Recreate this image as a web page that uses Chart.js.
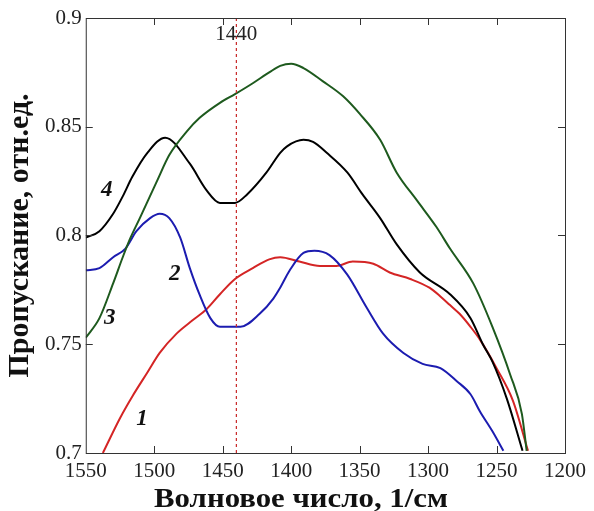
<!DOCTYPE html>
<html>
<head>
<meta charset="utf-8">
<script src="https://cdn.jsdelivr.net/npm/chart.js@4/dist/chart.umd.min.js"></script>
<style>
  body { margin: 0; background: #fff; }
  .wrap { width: 594px; height: 511px; }
</style>
</head>
<body>
<div class="wrap"><canvas id="spectrum"></canvas></div>
<script>
// --- data (wavenumber, transmittance) ---
let wn1 = [1537.5, 1525, 1516, 1505, 1496, 1483.5, 1472, 1462, 1452, 1441, 1428, 1416, 1408, 1394, 1379, 1367, 1355, 1340, 1328, 1313, 1299, 1291, 1284, 1277, 1269, 1262, 1250, 1238, 1227];
let tr1 = [0.700, 0.716, 0.726, 0.737, 0.746, 0.755, 0.761, 0.766, 0.773, 0.780, 0.785, 0.789, 0.790, 0.788, 0.786, 0.786, 0.788, 0.787, 0.783, 0.780, 0.776, 0.772, 0.768, 0.764, 0.758, 0.752, 0.739, 0.724, 0.701];

let wn2 = [1550, 1540, 1530, 1521, 1513, 1503, 1496, 1489, 1481, 1474, 1467, 1459, 1452, 1437, 1423, 1413, 1408, 1401, 1391, 1383, 1372, 1359, 1345, 1333, 1318, 1304, 1291, 1279, 1269, 1262, 1253, 1245];
let tr2 = [0.784, 0.785, 0.790, 0.794, 0.802, 0.808, 0.810, 0.808, 0.799, 0.785, 0.773, 0.762, 0.758, 0.758, 0.764, 0.771, 0.776, 0.784, 0.792, 0.793, 0.791, 0.782, 0.767, 0.755, 0.746, 0.741, 0.739, 0.733, 0.727, 0.719, 0.710, 0.701];

let wn3 = [1550, 1540, 1530, 1523, 1518, 1510.5, 1498, 1489, 1476, 1467, 1452, 1441, 1428, 1416, 1408, 1400, 1391, 1377, 1362, 1350, 1335, 1323, 1308, 1294, 1284, 1267, 1253, 1240, 1231.5, 1228];
let tr3 = [0.753, 0.762, 0.778, 0.790, 0.798, 0.808, 0.825, 0.837, 0.848, 0.854, 0.861, 0.865, 0.870, 0.875, 0.878, 0.879, 0.877, 0.871, 0.864, 0.856, 0.844, 0.829, 0.816, 0.804, 0.794, 0.778, 0.758, 0.736, 0.718, 0.701];

let wn4 = [1550, 1540, 1530, 1523, 1516, 1505, 1492, 1474, 1462, 1452, 1441, 1432, 1418, 1408, 1403, 1391, 1384, 1374, 1359, 1348, 1335, 1323, 1306, 1284, 1269, 1260, 1253, 1242.5, 1231];
let tr4 = [0.799, 0.802, 0.810, 0.818, 0.827, 0.838, 0.845, 0.833, 0.821, 0.815, 0.815, 0.819, 0.829, 0.838, 0.841, 0.844, 0.843, 0.838, 0.829, 0.819, 0.808, 0.796, 0.783, 0.773, 0.762, 0.750, 0.742, 0.725, 0.701];

let markerWn = 1440;
let xTicks = [1550, 1500, 1450, 1400, 1350, 1300, 1250, 1200];
let yTicks = [0.7, 0.75, 0.8, 0.85, 0.9];
let xTitle = 'Волновое число, 1/см';
let yTitle = 'Пропускание, отн.ед.';

// curve numbers, placed in data coordinates
let curveTags = [
  { text: '1', x: 1509, y: 0.7157 },
  { text: '2', x: 1485, y: 0.7825 },
  { text: '3', x: 1532.5, y: 0.762 },
  { text: '4', x: 1534.7, y: 0.8207 }
];

function pairs(xs, ys) {
  return xs.map((x, i) => ({ x: x, y: ys[i] }));
}

function lineSet(xs, ys, color) {
  return {
    data: pairs(xs, ys),
    borderColor: color,
    borderWidth: 2,
    pointRadius: 0,
    cubicInterpolationMode: 'monotone',
    fill: false
  };
}

// frame, inward ticks and text labels
let decorations = {
  id: 'decorations',
  afterDatasetsDraw(chart) {
    let ctx = chart.ctx;
    let area = chart.chartArea;
    let sx = chart.scales.x, sy = chart.scales.y;
    ctx.save();
    ctx.strokeStyle = '#333';
    ctx.lineWidth = 1;
    ctx.strokeRect(area.left + 0.5, area.top + 0.5, area.right - area.left, area.bottom - area.top);
    let len = 7;
    ctx.beginPath();
    xTicks.slice(1, -1).forEach(v => {
      let px = Math.round(sx.getPixelForValue(v)) + 0.5;
      ctx.moveTo(px, area.bottom); ctx.lineTo(px, area.bottom - len);
      ctx.moveTo(px, area.top); ctx.lineTo(px, area.top + len);
    });
    yTicks.slice(1, -1).forEach(v => {
      let py = Math.round(sy.getPixelForValue(v)) + 0.5;
      ctx.moveTo(area.left, py); ctx.lineTo(area.left + len, py);
      ctx.moveTo(area.right, py); ctx.lineTo(area.right - len, py);
    });
    ctx.stroke();

    ctx.fillStyle = '#222';
    ctx.font = '21px "Liberation Serif"';
    ctx.textAlign = 'center';
    ctx.textBaseline = 'middle';
    ctx.fillText(String(markerWn), sx.getPixelForValue(markerWn), area.top + 16);

    ctx.font = 'italic bold 23px "Liberation Serif"';
    ctx.fillStyle = '#111';
    curveTags.forEach(t => {
      ctx.fillText(t.text, sx.getPixelForValue(t.x), sy.getPixelForValue(t.y));
    });

    // x axis title, centred on the figure like the original
    ctx.font = 'bold 28px "Liberation Serif"';
    ctx.translate(301, 500);
    ctx.scale(1.1, 1);
    ctx.fillText(xTitle, 0, 0);
    ctx.restore();
  }
};

let markerLine = {
  data: [{ x: markerWn, y: 0.7 }, { x: markerWn, y: 0.9 }],
  borderColor: '#c82828',
  borderWidth: 1.2,
  borderDash: [3, 3],
  pointRadius: 0,
  tension: 0
};

new Chart(document.getElementById('spectrum'), {
  type: 'line',
  data: {
    datasets: [
      markerLine,
      lineSet(wn3, tr3, '#1e5a1e'),
      lineSet(wn4, tr4, '#000000'),
      lineSet(wn2, tr2, '#1c1cb0'),
      lineSet(wn1, tr1, '#d42525')
    ]
  },
  options: {
    responsive: true,
    maintainAspectRatio: false,
    animation: false,
    layout: { padding: { top: 18, right: 28, left: 2, bottom: 21 } },
    plugins: { legend: { display: false }, tooltip: { enabled: false } },
    scales: {
      x: {
        type: 'linear',
        reverse: true,
        min: 1200,
        max: 1550,
        grid: { display: false, drawTicks: false },
        border: { display: false },
        ticks: {
          stepSize: 50,
          padding: 8,
          color: '#222',
          maxRotation: 0,
          font: { family: '"Liberation Serif"', size: 21, lineHeight: 1 },
          callback: v => String(v)
        }
      },
      y: {
        min: 0.7,
        max: 0.9,
        grid: { display: false, drawTicks: false },
        border: { display: false },
        ticks: {
          stepSize: 0.05,
          padding: 4,
          color: '#222',
          font: { family: '"Liberation Serif"', size: 21 },
          callback: v => String(+v.toFixed(2))
        },
        title: {
          display: true,
          text: yTitle,
          color: '#111',
          padding: { top: 3, bottom: 6 },
          font: { family: '"Liberation Serif"', size: 30, weight: 'bold', lineHeight: 1 }
        }
      }
    }
  },
  plugins: [decorations]
});
</script>
</body>
</html>
